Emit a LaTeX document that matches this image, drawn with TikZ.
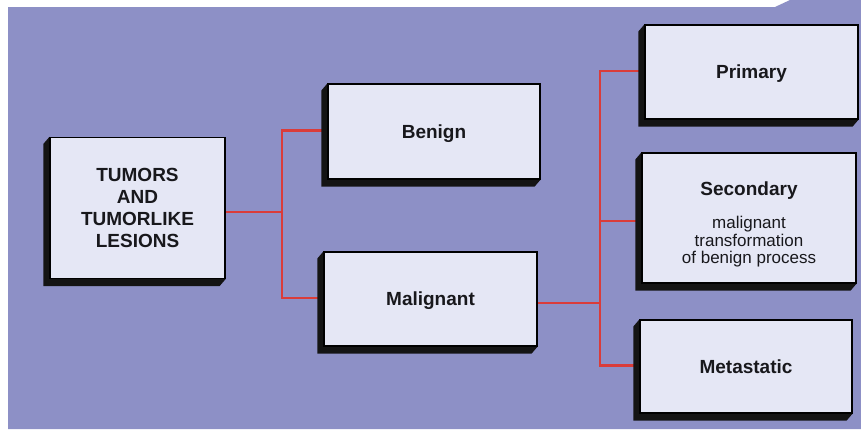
\documentclass[tikz,border=0pt]{standalone}
\usepackage{fontspec}
\setmainfont{Liberation Sans}
\usetikzlibrary{calc}

% layers: plate and wiring at the back, card extrusions above, cards on top
\pgfdeclarelayer{paper}
\pgfdeclarelayer{shade}
\pgfsetlayers{paper,shade,main}

\definecolor{plate}{RGB}{141,144,198}
\definecolor{cardfill}{RGB}{229,231,245}
\definecolor{wirered}{RGB}{218,60,58}
\definecolor{ink}{RGB}{24,24,28}

\tikzset{
  x=1pt, y=-1pt,
  label text/.style={text=ink, align=center, inner sep=0pt,
    font=\fontsize{19}{22}\selectfont\bfseries},
  oneline/.style={text height=13.7pt, text depth=0pt},
  card/.style={label text, draw=black, line width=1.2pt, fill=cardfill},
  subtext/.style={text=ink, align=center, inner sep=0pt,
    font=\fontsize{17}{17.5}\selectfont},
  wire/.style={draw=wirered, line width=2.6pt},
}

% dark extruded side of a card, down and to the left
\newcommand\cardshadow[1]{%
  \fill[black!92] (#1.north west) -- ($(#1.north west)+(-6,7)$)
    -- ($(#1.south west)+(-6,7)$) -- ($(#1.south east)+(-6,7)$)
    -- (#1.south east) -- cycle;}

\begin{document}
\begin{tikzpicture}
\useasboundingbox (0,0) rectangle (861,429);

% cards
\node[card, minimum width=175pt, minimum height=141pt] (root) at (137.5,208)
  {TUMORS\\AND\\TUMORLIKE\\LESIONS};
\node[card, oneline, minimum width=212pt, minimum height=95pt] (benign) at (434,131.5) {Benign};
\node[card, oneline, minimum width=213pt, minimum height=94pt] (malig) at (430.5,299) {Malignant};
\node[card, oneline, minimum width=213pt, minimum height=94pt] (primary) at (751.5,72) {Primary};
\node[card, minimum width=214pt, minimum height=130pt] (second) at (749,218) {};
\node[label text, oneline] (sectitle) at (749,188.5) {Secondary};
\node[subtext] (secsub) at (749,242) {malignant\\transformation\\of benign process};
\node[card, oneline, minimum width=212pt, minimum height=93pt] (meta) at (746,366.5) {Metastatic};

\begin{pgfonlayer}{shade}
  \cardshadow{root}
  \cardshadow{benign}
  \cardshadow{malig}
  \cardshadow{primary}
  \cardshadow{second}
  \cardshadow{meta}
\end{pgfonlayer}

\begin{pgfonlayer}{paper}
  % scanned plate with a thin white edge
  \fill[white] (0,0) rectangle (861,429);
  \fill[plate] (8,7) -- (775,7) -- (790,0) -- (861,0) -- (861,429) -- (8,429) -- cycle;

  % first split
  \coordinate (j1) at (282,212);
  \draw[wire] (root.east |- j1) -- (j1);
  \draw[wire] ($(benign.west)+(0,-1)$) -| (j1) |- ($(malig.west)+(0,-1)$);

  % second split
  \coordinate (j2) at (600,303);
  \draw[wire] (malig.east |- j2) -- (j2);
  \draw[wire] ($(primary.west)+(0,-1)$) -| (j2) |- ($(meta.west)+(0,-1)$);
  \coordinate (s2) at ($(second.west)+(0,3)$);
  \draw[wire] (j2 |- s2) -- (s2);
\end{pgfonlayer}
\end{tikzpicture}
\end{document}
